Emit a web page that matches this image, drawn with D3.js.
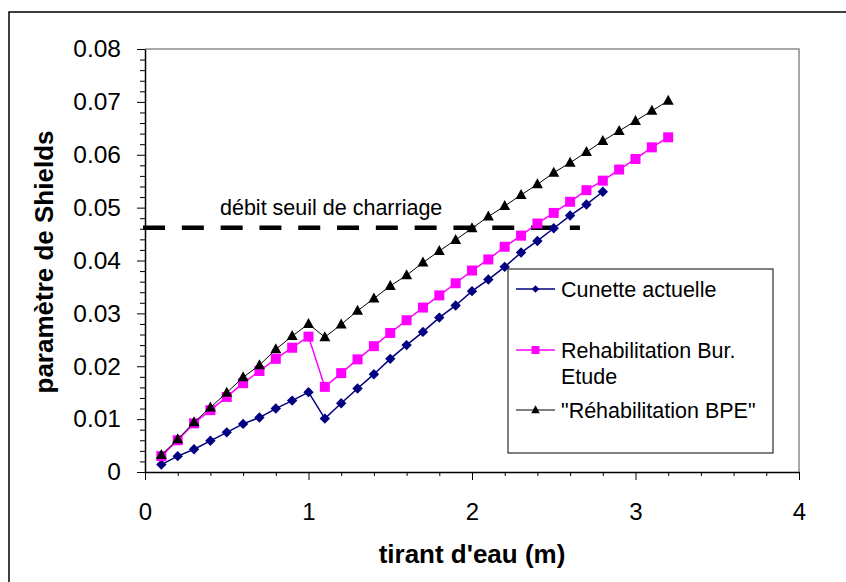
<!DOCTYPE html>
<html><head><meta charset="utf-8">
<script src="https://cdn.jsdelivr.net/npm/d3@7"></script>
<style>
body{margin:0;background:#fff}
svg text{font-family:"Liberation Sans",Arial,sans-serif}
</style>
</head><body>
<svg id="chart" width="846" height="582"></svg>
<script>
// ---- data ----
const depthCunette = [0.1,0.2,0.3,0.4,0.5,0.6,0.7,0.8,0.9,1.0,1.1,1.2,1.3,1.4,1.5,1.6,1.7,1.8,1.9,2.0,2.1,2.2,2.3,2.4,2.5,2.6,2.7,2.8];
const shieldsCunette = [0.0014,0.0030,0.0043,0.0059,0.0075,0.0091,0.0103,0.0120,0.0135,0.0151,0.0101,0.0130,0.0158,0.0185,0.0214,0.0240,0.0265,0.0292,0.0315,0.0342,0.0364,0.0388,0.0415,0.0437,0.0461,0.0485,0.0506,0.0530];
const depthRehab = [0.1,0.2,0.3,0.4,0.5,0.6,0.7,0.8,0.9,1.0,1.1,1.2,1.3,1.4,1.5,1.6,1.7,1.8,1.9,2.0,2.1,2.2,2.3,2.4,2.5,2.6,2.7,2.8,2.9,3.0,3.1,3.2];
const shieldsRehabBE = [0.0030,0.0060,0.0092,0.0117,0.0142,0.0168,0.0191,0.0214,0.0235,0.0256,0.0161,0.0187,0.0213,0.0238,0.0263,0.0287,0.0311,0.0334,0.0357,0.0381,0.0402,0.0426,0.0447,0.0470,0.0490,0.0511,0.0533,0.0551,0.0572,0.0592,0.0614,0.0633];
const shieldsRehabBPE = [0.0032,0.0062,0.0094,0.0122,0.0150,0.0179,0.0202,0.0232,0.0257,0.0280,0.0255,0.0279,0.0305,0.0328,0.0352,0.0372,0.0396,0.0418,0.0439,0.0461,0.0483,0.0503,0.0524,0.0544,0.0566,0.0585,0.0605,0.0626,0.0645,0.0664,0.0683,0.0702];
const seriesNames = ["Cunette actuelle", "Rehabilitation Bur. Etude", "\"Réhabilitation BPE\""];
const thresholdX = [-0.012, 2.66];
const thresholdY = 0.0462;
const thresholdLabel = "débit seuil de charriage";
const xTicks = [0,1,2,3,4];
const xTickLabels = ["0","1","2","3","4"];
const yTicks = [0,0.01,0.02,0.03,0.04,0.05,0.06,0.07,0.08];
const yTickLabels = ["0","0.01","0.02","0.03","0.04","0.05","0.06","0.07","0.08"];
const xTitle = "tirant d'eau (m)";
const yTitle = "paramètre de Shields";

// ---- layout ----
const svg = d3.select("#chart");
const x = d3.scaleLinear().domain([0,4]).range([145,799]);
const y = d3.scaleLinear().domain([0,0.08]).range([472,49]);

// outer frame (right/bottom off canvas)
svg.append("rect").attr("x",9).attr("y",12).attr("width",860).attr("height",600)
  .attr("fill","none").attr("stroke","#000").attr("stroke-width",1.5);

// plot border (top/right gray)
svg.append("path")
  .attr("d",`M${x(0)},${y(0.08)}H${x(4)}V${y(0)}`)
  .attr("fill","none").attr("stroke","#8c8c8c").attr("stroke-width",1.5);

// minor ticks
const xMinor = d3.range(0,4.0001,0.2).filter(v=>Math.abs(v-Math.round(v))>1e-6);
const yMinor = d3.range(0,0.08001,0.002).filter(v=>Math.abs(v*100-Math.round(v*100))>1e-6);

svg.append("g").attr("transform",`translate(0,${y(0)})`)
  .call(d3.axisBottom(x).tickValues(xMinor).tickSize(4).tickSizeOuter(0).tickFormat(""))
  .call(g=>g.select(".domain").remove());
svg.append("g").attr("transform",`translate(${x(0)},0)`)
  .call(d3.axisLeft(y).tickValues(yMinor).tickSize(5).tickSizeOuter(0).tickFormat(""))
  .call(g=>g.select(".domain").remove());

const gx = svg.append("g").attr("transform",`translate(0,${y(0)})`)
  .call(d3.axisBottom(x).tickValues(xTicks).tickSize(8).tickSizeOuter(0).tickPadding(23)
    .tickFormat((d,i)=>xTickLabels[i]));
gx.selectAll("text").attr("font-size",24).attr("fill","#000").style("font-family","Liberation Sans, Arial, sans-serif");
gx.select(".domain").attr("stroke-width",1.5);

const gy = svg.append("g").attr("transform",`translate(${x(0)},0)`)
  .call(d3.axisLeft(y).tickValues(yTicks).tickSize(8).tickSizeOuter(0).tickPadding(16)
    .tickFormat((d,i)=>yTickLabels[i]));
gy.selectAll("text").attr("font-size",24.5).attr("fill","#000").style("font-family","Liberation Sans, Arial, sans-serif");
gy.select(".domain").attr("stroke-width",1.5);

// titles
svg.append("text").attr("x",472).attr("y",563).attr("text-anchor","middle")
  .attr("font-size",26).attr("font-weight","bold").text(xTitle);
svg.append("text").attr("transform",`translate(53,262) rotate(-90)`).attr("text-anchor","middle")
  .attr("font-size",26).attr("font-weight","bold").text(yTitle);

// threshold dashed line
svg.append("line")
  .attr("x1",x(thresholdX[0])).attr("x2",x(thresholdX[1]))
  .attr("y1",y(thresholdY)).attr("y2",y(thresholdY))
  .attr("stroke","#000").attr("stroke-width",4.5).attr("stroke-dasharray","22,16.8");
svg.append("text").attr("x",220).attr("y",215).attr("font-size",21.5).text(thresholdLabel);

// series
const diamond = r => `M0,${-r}L${r},0L0,${r}L${-r},0Z`;
const square = s => `M${-s/2},${-s/2}h${s}v${s}h${-s}Z`;
const triangle = (w,h) => `M0,${-h*0.6}L${w/2},${h*0.4}L${-w/2},${h*0.4}Z`;

const series = [
  {xs:depthCunette, ys:shieldsCunette, color:"#000080", lw:1.5, shape:diamond(5.2), lshape:diamond(3.8)},
  {xs:depthRehab, ys:shieldsRehabBE, color:"#ff00ff", lw:1.5, shape:square(10), lshape:square(8)},
  {xs:depthRehab, ys:shieldsRehabBPE, color:"#000000", lw:1, shape:triangle(11,10), lshape:triangle(8.5,8)}
];
const line = d3.line().x(d=>x(d[0])).y(d=>y(d[1]));
series.forEach(s=>{
  const pts = s.xs.map((v,i)=>[v,s.ys[i]]);
  const g = svg.append("g");
  g.append("path").attr("d",line(pts)).attr("fill","none").attr("stroke",s.color).attr("stroke-width",s.lw);
  g.selectAll("path.m").data(pts).join("path").attr("class","m")
    .attr("transform",d=>`translate(${x(d[0])},${y(d[1])})`)
    .attr("d",s.shape).attr("fill",s.color);
});

// legend
const lg = svg.append("g");
lg.append("rect").attr("x",508).attr("y",269).attr("width",265).attr("height",184)
  .attr("fill","#fff").attr("stroke","#000").attr("stroke-width",1);
const legendRows = [289, 350, 410];
series.forEach((s,i)=>{
  const yy = legendRows[i];
  lg.append("line").attr("x1",516).attr("x2",555).attr("y1",yy).attr("y2",yy)
    .attr("stroke",s.color).attr("stroke-width",s.lw);
  lg.append("path").attr("transform",`translate(535.5,${yy})`).attr("d",s.lshape).attr("fill",s.color);
});
lg.append("text").attr("x",561).attr("y",289+7.5).attr("font-size",21.5).text(seriesNames[0]);
lg.append("text").attr("x",561).attr("y",350+7.5).attr("font-size",21.5).text("Rehabilitation Bur.");
lg.append("text").attr("x",561).attr("y",376+7.5).attr("font-size",21.5).text("Etude");
lg.append("text").attr("x",561).attr("y",410+7.5).attr("font-size",21.5).text(seriesNames[2]);
</script>
</body></html>
